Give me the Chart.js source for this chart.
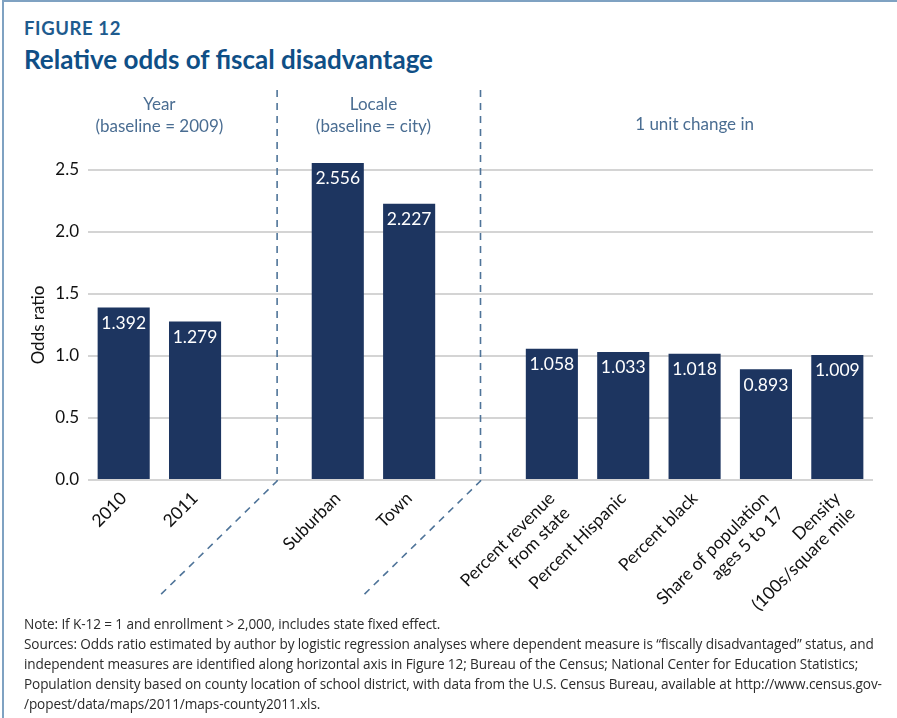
<!DOCTYPE html>
<html>
<head>
<meta charset="utf-8">
<script src="https://cdn.jsdelivr.net/npm/chart.js@4.4.1/dist/chart.umd.min.js"></script>
<style>
  html, body { margin: 0; padding: 0; background: #fff; }
  #wrap {
    position: relative; width: 897px; height: 718px; overflow: hidden;
    border-top: 2px solid #7fa2c2; border-left: 2px solid #7fa2c2;
    box-sizing: border-box; margin-left: 2px;
  }
  #fig { position: absolute; left: 20px; top: 15px; font: bold 18.5px Lato, sans-serif; color: #1e5b8e; letter-spacing: 0.6px; }
  #title { position: absolute; left: 20px; top: 41px; font: bold 26px Lato, sans-serif; color: #0f4f86; }
  #chartBox { position: absolute; left: -4px; top: -2px; width: 897px; height: 718px; }
  #notes {
    position: absolute; left: 20px; top: 612px;
    font: 13.6px "Open Sans", sans-serif; color: #2b2b2b;
    line-height: 20px; white-space: nowrap; letter-spacing: -0.1px;
  }
</style>
</head>
<body>
<div id="wrap">
  <div id="fig">FIGURE 12</div>
  <div id="title">Relative odds of fiscal disadvantage</div>
  <div id="chartBox"><canvas id="oddsChart"></canvas></div>
  <div id="notes">
    Note: If K-12 = 1 and enrollment &gt; 2,000, includes state fixed effect.<br>
    Sources: Odds ratio estimated by author by logistic regression analyses where dependent measure is “fiscally disadvantaged” status, and<br>
    independent measures are identified along horizontal axis in Figure 12; Bureau of the Census; National Center for Education Statistics;<br>
    Population density based on county location of school district, with data from the U.S. Census Bureau, available at http://www.census.gov-<br>
    /popest/data/maps/2011/maps-county2011.xls.
  </div>
</div>
<script>
// categories, with empty slots where the group dividers sit
const categories = [
  '2010', '2011', '',
  'Suburban', 'Town', '',
  ['Percent revenue', 'from state'], 'Percent Hispanic', 'Percent black',
  ['Share of population', 'ages 5 to 17'], ['Density', '(100s/square mile']
];
const oddsRatios = [1.392, 1.279, null, 2.556, 2.227, null, 1.058, 1.033, 1.018, 0.893, 1.009];
const yTicks = [0, 0.5, 1, 1.5, 2, 2.5];

// group headings: text lines and which categories they span
const groups = [
  { lines: ['Year', '(baseline = 2009)'], from: 0, to: 1 },
  { lines: ['Locale', '(baseline = city)'], from: 3, to: 4 },
  { lines: ['1 unit change in'], from: 6, to: 10 }
];
const dividers = [2.15, 5];

const FONT = 'Lato, sans-serif';
const DIVIDER_COLOR = '#4f7499';

const decorations = {
  id: 'decorations',
  afterDatasetsDraw(chart) {
    const { ctx, scales: { x, y } } = chart;
    const meta = chart.getDatasetMeta(0);

    // value labels inside the top of each bar
    ctx.save();
    ctx.fillStyle = '#ffffff';
    ctx.font = '17.5px ' + FONT;
    ctx.textAlign = 'center';
    ctx.textBaseline = 'top';
    meta.data.forEach((bar, i) => {
      const v = oddsRatios[i];
      if (v == null) return;
      ctx.fillText(v.toFixed(3), bar.x, bar.y + 7);
    });
    ctx.restore();

    // dashed group dividers, bending down-left under the axis
    const base = y.getPixelForValue(0);
    ctx.save();
    ctx.strokeStyle = DIVIDER_COLOR;
    ctx.lineWidth = 1.6;
    ctx.setLineDash([7, 6]);
    dividers.forEach(d => {
      const px = x.getPixelForValue(d);
      ctx.beginPath();
      ctx.moveTo(px, 90);
      ctx.lineTo(px, base + 1);
      ctx.lineTo(px - 120, base + 118);
      ctx.stroke();
    });
    ctx.restore();

    // group headings
    ctx.save();
    ctx.fillStyle = '#4a6d92';
    ctx.font = '17px ' + FONT;
    ctx.textAlign = 'center';
    ctx.textBaseline = 'alphabetic';
    groups.forEach(g => {
      const cx = (x.getPixelForValue(g.from) + x.getPixelForValue(g.to)) / 2;
      if (g.lines.length === 2) {
        ctx.fillText(g.lines[0], cx, 110);
        ctx.fillText(g.lines[1], cx, 132);
      } else {
        ctx.fillText(g.lines[0], cx, 130);
      }
    });
    ctx.restore();
  }
};

new Chart(document.getElementById('oddsChart'), {
  type: 'bar',
  data: {
    labels: categories,
    datasets: [{
      data: oddsRatios,
      backgroundColor: '#1d3560',
      barPercentage: 0.73,
      categoryPercentage: 1,
      clip: false
    }]
  },
  options: {
    responsive: true,
    maintainAspectRatio: false,
    animation: false,
    events: [],
    layout: { padding: { left: 0, right: 24, top: 170, bottom: 0 } },
    plugins: { legend: { display: false }, tooltip: { enabled: false } },
    scales: {
      x: {
        afterFit(scale) { scale.height = 238; },
        grid: { display: false },
        border: { display: false },
        ticks: {
          color: '#111',
          font: { family: FONT, size: 17.5 },
          minRotation: 45,
          maxRotation: 45,
          autoSkip: false,
          padding: 0
        }
      },
      y: {
        min: 0,
        max: 2.5,
        afterFit(scale) { scale.width = 88; },
        afterBuildTicks(scale) { scale.ticks = yTicks.map(v => ({ value: v })); },
        grid: { color: '#d4d4d4', lineWidth: 2, drawTicks: false },
        border: { display: false },
        ticks: {
          color: '#111',
          font: { family: FONT, size: 17 },
          padding: 9,
          callback: v => v.toFixed(1)
        },
        title: {
          display: true,
          text: 'Odds ratio',
          color: '#111',
          font: { family: FONT, size: 17 },
          padding: { top: 28, bottom: 0 }
        }
      }
    }
  },
  plugins: [decorations]
});
</script>
</body>
</html>
